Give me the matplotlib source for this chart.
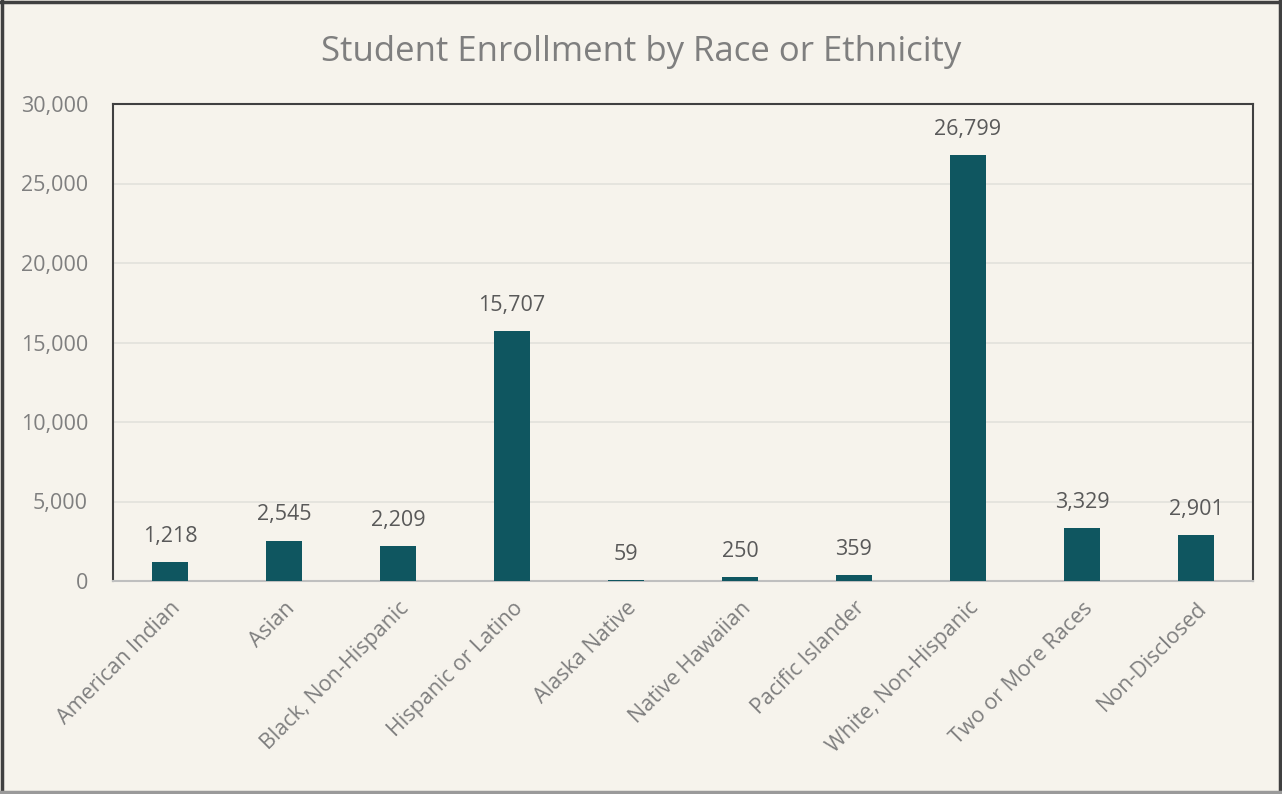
import matplotlib.pyplot as plt
from matplotlib.lines import Line2D

plt.rcParams['font.family'] = ['Open Sans', 'DejaVu Sans']

categories = ["American Indian", "Asian", "Black, Non-Hispanic", "Hispanic or Latino",
              "Alaska Native", "Native Hawaiian", "Pacific Islander",
              "White, Non-Hispanic", "Two or More Races", "Non-Disclosed"]
enrollment = [1218, 2545, 2209, 15707, 59, 250, 359, 26799, 3329, 2901]
y_ticks = [0, 5000, 10000, 15000, 20000, 25000, 30000]

bg = "#F6F3EC"
bar_color = "#0F5660"
text_color = "#7F7F7F"

fig = plt.figure(figsize=(12.82, 7.94), dpi=100, facecolor=bg)
ax = fig.add_axes([113/1282, 1 - 581/794, (1253-113)/1282, (581-104)/794])
ax.set_facecolor(bg)

x = range(len(categories))
ax.bar(x, enrollment, width=0.31, color=bar_color, zorder=3)
for xi, v in zip(x, enrollment):
    ax.text(xi, v + 950, f"{v:,}", ha="center", va="bottom", fontsize=15.5, color="#595959")

ax.set_xlim(-0.5, len(categories) - 0.5)
ax.set_ylim(0, 30000)
ax.set_yticks(y_ticks)
ax.set_yticklabels([f"{t:,}" for t in y_ticks], fontsize=15.5, color=text_color)
ax.set_xticks(list(x))
ax.set_xticklabels(categories, rotation=45, ha="right", rotation_mode="anchor",
                   fontsize=15.5, color=text_color)
ax.tick_params(axis="y", length=0, pad=18)
ax.tick_params(axis="x", length=0, pad=12)
ax.grid(axis="y", color="#E2E1DC", linewidth=1.2, zorder=0)

for side in ["left", "top", "right"]:
    ax.spines[side].set_color("#404040")
    ax.spines[side].set_linewidth(1.5)
ax.spines["bottom"].set_color("#BFBFBF")
ax.spines["bottom"].set_linewidth(1.5)

fig.text(0.5, 1 - 52/794, "Student Enrollment by Race or Ethnicity", ha="center", va="center",
         fontsize=25, color="#7F7F7F")

# chart frame
e = 0.0012
for xs, ys, c in [([e, e], [0, 1], "#404040"), ([1 - e, 1 - e], [0, 1], "#404040"),
                  ([0, 1], [1 - 0.002, 1 - 0.002], "#404040"), ([0, 1], [0.002, 0.002], "#9A9A9A")]:
    fig.lines.append(Line2D(xs, ys, transform=fig.transFigure, color=c, linewidth=2.5))

fig.savefig("out.png", dpi=100, facecolor=bg)
